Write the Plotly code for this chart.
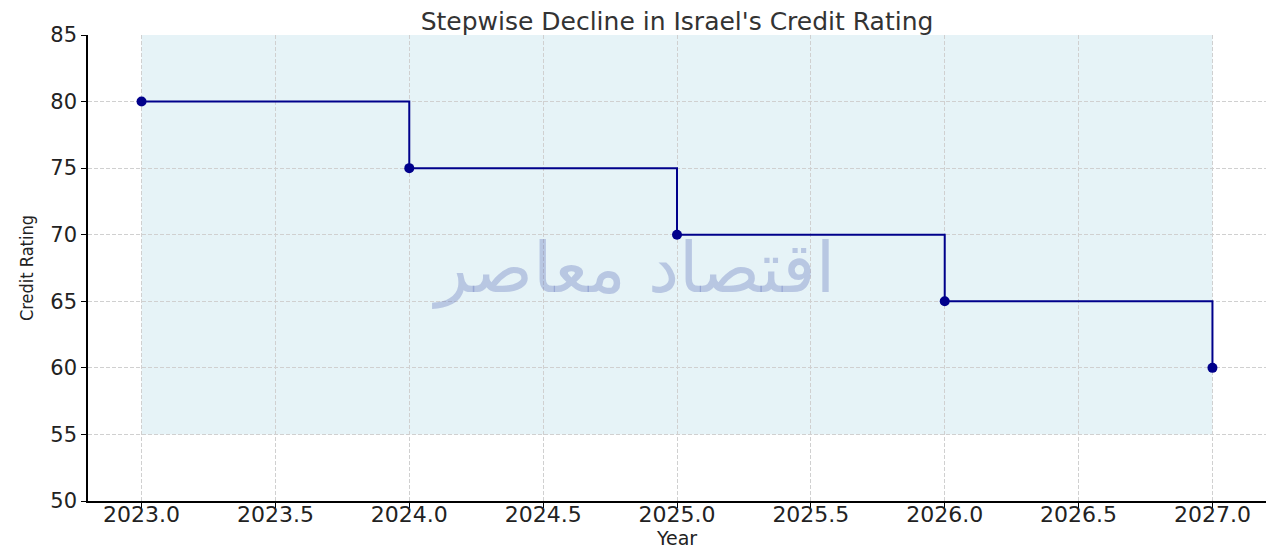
import plotly.graph_objects as go

years = [2023, 2024, 2025, 2026, 2027]
ratings = [80, 75, 70, 65, 60]
shade_bottom = 55
y_ticks = [50, 55, 60, 65, 70, 75, 80, 85]
x_ticks = [2023.0, 2023.5, 2024.0, 2024.5, 2025.0, 2025.5, 2026.0, 2026.5, 2027.0]
x_tick_labels = ["%.1f" % v for v in x_ticks]

fig = go.Figure()

fig.add_trace(go.Scatter(
    x=years, y=ratings, mode="lines+markers",
    line=dict(shape="hv", color="#00008B", width=2),
    marker=dict(size=10, color="#00008B"),
    showlegend=False,
))

fig.add_shape(type="rect", xref="x", yref="y",
              x0=years[0], x1=years[-1], y0=shade_bottom, y1=85,
              fillcolor="rgba(173,216,230,0.3)", line=dict(width=0), layer="below")

fig.add_annotation(text="اقتصاد معاصر", x=0.463, y=0.50, xref="paper", yref="paper",
                   showarrow=False, font=dict(family="DejaVu Sans", size=70,
                                              color="rgba(90,110,185,0.33)"))

fig.update_layout(
    width=1280, height=555,
    margin=dict(l=80, r=22, t=27, b=62),
    paper_bgcolor="white", plot_bgcolor="white",
    title=dict(text="Stepwise Decline in Israel's Credit Rating", x=0.5, xanchor="center",
               xref="paper", y=0.976, yanchor="middle",
               font=dict(family="DejaVu Sans", size=25, color="#333333")),
    font=dict(family="DejaVu Sans", color="#222222"),
)

fig.update_xaxes(
    range=[2022.8, 2027.2], tickvals=x_ticks, ticktext=x_tick_labels,
    showgrid=True, gridcolor="#D0D0D0", griddash="4px,2px", gridwidth=1,
    showline=True, linecolor="black", linewidth=1.5, ticks="outside", ticklen=5,
    tickcolor="black", tickfont=dict(size=22), automargin=False, ticklabelstandoff=-12,
    title=dict(text="Year", font=dict(size=19), standoff=0), zeroline=False,
)
fig.update_yaxes(
    range=[50, 85], tickvals=y_ticks,
    showgrid=True, gridcolor="#D0D0D0", griddash="4px,2px", gridwidth=1,
    showline=True, linecolor="black", linewidth=1.5, ticks="outside", ticklen=5,
    tickcolor="black", tickfont=dict(size=21), automargin=False,
    title=dict(text="Credit Rating", font=dict(family="DejaVu Sans Condensed", size=18), standoff=12),
    zeroline=False,
)

fig.write_html("out.html")
